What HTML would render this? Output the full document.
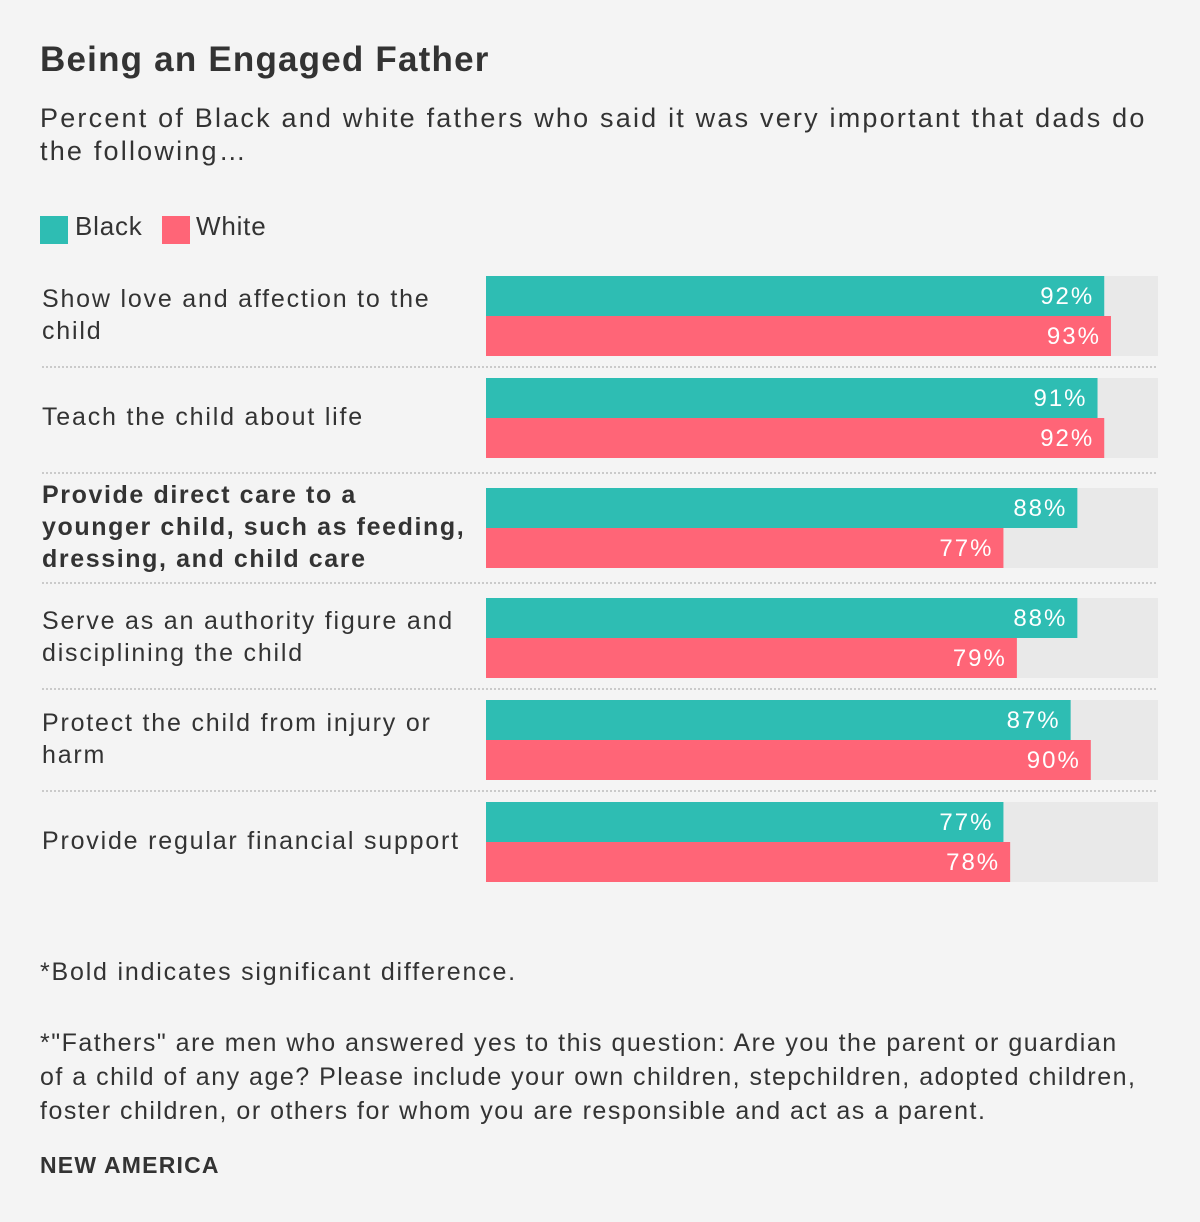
<!DOCTYPE html>
<html><head><meta charset="utf-8"><style>
body{margin:0;background:#f4f4f4;font-family:"Liberation Sans",sans-serif;color:#333;}
#wrap{position:relative;width:1200px;height:1222px;overflow:hidden;}
.t{position:absolute;white-space:nowrap;}
</style></head><body>
<div id="wrap">
<div class="t" style="left:40px;top:40px;font-size:35px;font-weight:bold;color:#333;letter-spacing:1.2px;">Being an Engaged Father</div>
<div class="t" style="left:40px;top:102px;font-size:27px;line-height:33px;white-space:normal;width:1115px;letter-spacing:2.2px;">Percent of Black and white fathers who said it was very important that dads do the following…</div>
<div style="position:absolute;left:40px;top:216px;width:28px;height:28px;background:#2ebdb3;"></div>
<div class="t" style="left:75px;top:211px;font-size:26px;letter-spacing:0.8px;">Black</div>
<div style="position:absolute;left:162px;top:216px;width:28px;height:28px;background:#ff6577;"></div>
<div class="t" style="left:196px;top:211px;font-size:26px;letter-spacing:0.8px;">White</div>
<svg id="chart" width="1200" height="1222" style="position:absolute;left:0;top:0;"></svg>
<div class="t" style="left:40px;top:958px;font-size:25px;letter-spacing:1.8px;">*Bold indicates significant difference.</div>
<div class="t" style="left:40px;top:1026px;font-size:25px;line-height:34px;white-space:normal;width:1100px;letter-spacing:1.5px;">*"Fathers" are men who answered yes to this question: Are you the parent or guardian of a child of any age? Please include your own children, stepchildren, adopted children, foster children, or others for whom you are responsible and act as a parent.</div>
<div class="t" style="left:40px;top:1152px;font-size:23px;font-weight:bold;letter-spacing:1.2px;">NEW AMERICA</div>
</div>
<script>
const categories=["Show love and affection to the|child","Teach the child about life","Provide direct care to a|younger child, such as feeding,|dressing, and child care","Serve as an authority figure and|disciplining the child","Protect the child from injury or|harm","Provide regular financial support"];
const blackValues=[92,91,88,88,87,77];
const whiteValues=[93,92,77,79,90,78];
const boldFlags=[false,false,true,false,false,false];
const NS="http://www.w3.org/2000/svg";
const svg=document.getElementById("chart");
const x0=486,x1=1158;
function xScale(v){return x0+(x1-x0)*v/100;}
const tops=[276,378,488,598,700,802];
function mk(tag,attrs){const e=document.createElementNS(NS,tag);for(const k in attrs)e.setAttribute(k,attrs[k]);svg.appendChild(e);return e;}
categories.forEach((c,i)=>{
  const y=tops[i];
  const bg=mk("rect",{x:x0,y:y,width:x1-x0,height:80,fill:"#e9e9e9"});
  
  
  [[blackValues[i],"#2ebdb3",y,"bar-black"],[whiteValues[i],"#ff6577",y+40,"bar-white"]].forEach(([v,col,yy,nm])=>{
    const r=mk("rect",{x:x0,y:yy,width:xScale(v)-x0,height:40,fill:col});
    
    
    const t=mk("text",{x:xScale(v)-10,y:yy+28,"text-anchor":"end",fill:"#fff","font-size":24,"font-family":"Liberation Sans, sans-serif","letter-spacing":"2"});
    t.textContent=v+"%";
    
    
  });
  const lines=c.split("|");
  const lh=32, startY=y+40-(lines.length*lh)/2+23;
  lines.forEach((ln,j)=>{
    const t=mk("text",{x:42,y:startY+j*lh,"font-size":25,fill:"#333","font-family":"Liberation Sans, sans-serif","font-weight":boldFlags[i]?"bold":"normal","letter-spacing":boldFlags[i]?"1.6":"1.8"});
    t.textContent=ln;
    
    
  });
  if(i<categories.length-1){
    const sepY=(y+80+tops[i+1])/2;
    const l=mk("line",{x1:42,x2:x1,y1:sepY,y2:sepY,stroke:"#bbb","stroke-width":1.5,"stroke-dasharray":"2,2"});
    
    
  }
});
</script>
</body></html>
